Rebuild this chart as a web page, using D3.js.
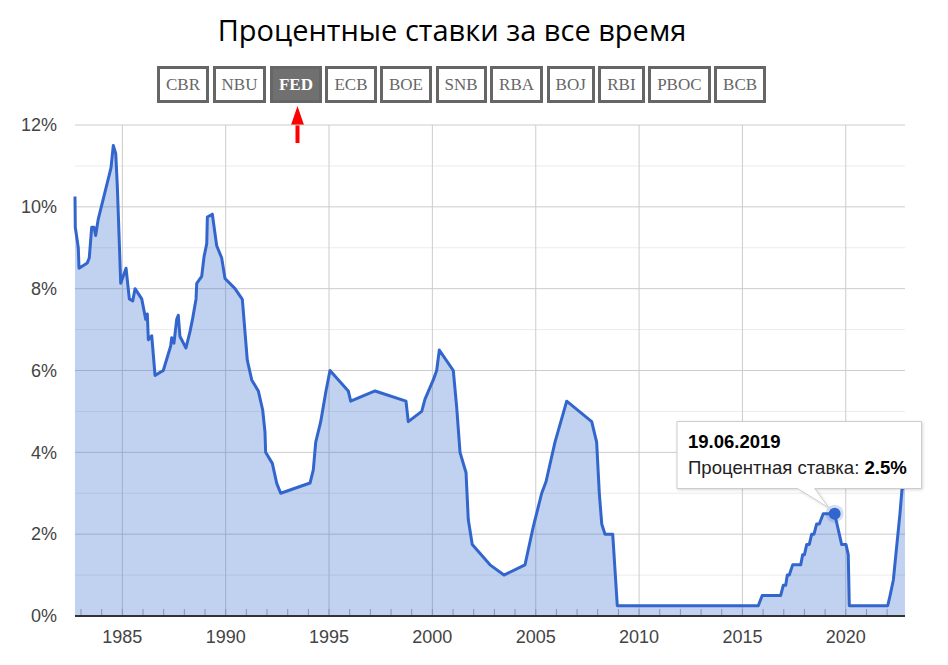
<!DOCTYPE html>
<html>
<head>
<meta charset="utf-8">
<script src="https://cdn.jsdelivr.net/npm/d3@7"></script>
<style>
  body { margin: 0; background: #fff; }
  #wrap { position: relative; width: 948px; height: 665px; }
  #banks { position: absolute; left: 157px; top: 66px; display: flex; gap: 3.5px; }
  .bank { box-sizing: border-box; height: 37px; border: 3px solid #666; padding: 0 6px;
          font: 17px "Liberation Serif", "Times New Roman", serif; line-height: 31px; color: #666; background: #fff; }
  .bank.on { background: #707070; color: #fff; font-weight: bold; }
  svg { position: absolute; left: 0; top: 0; }
</style>
</head>
<body>
<div id="wrap">
  <svg id="chart" width="948" height="665"></svg>
  <div id="banks"></div>
</div>
<script>
// banks shown as buttons above the chart
const banks = ['CBR', 'NBU', 'FED', 'ECB', 'BOE', 'SNB', 'RBA', 'BOJ', 'RBI', 'PBOC', 'BCB'];
const activeBank = 'FED';

// FED rate
const dates = ['1982-09-17','1982-09-22','1982-11-14','1982-11-27','1983-04-22','1983-05-27','1983-07-09','1983-08-18','1983-09-17','1983-11-02',
  '1984-06-14','1984-07-25','1984-09-06','1984-10-04','1984-12-03','1985-03-07','1985-05-04','1985-07-03','1985-08-13','1985-12-09',
  '1986-02-18','1986-03-18','1986-04-05','1986-06-04','1986-08-01','1986-12-25','1987-05-05','1987-05-23','1987-07-02','1987-08-19',
  '1987-09-16','1987-10-16','1988-01-30','1988-04-10','1988-05-28','1988-07-26','1988-08-07','1988-11-03','1988-12-14','1989-01-31',
  '1989-02-11','1989-05-10','1989-07-26','1989-10-22','1989-12-20','1990-06-15','1990-10-22','1991-01-18','1991-04-06','1991-07-31',
  '1991-10-16','1991-11-26','1991-12-08','1992-04-04','1992-06-21','1992-08-30','1994-01-30','1994-03-29','1994-05-11','1994-08-07',
  '1994-11-08','1995-01-18','1995-12-07','1996-01-19','1997-03-24','1998-09-22','1998-11-01','1999-06-27','1999-08-24','2000-01-17',
  '2000-03-17','2000-05-03','2001-01-05','2001-03-06','2001-05-04','2001-08-18','2001-09-27','2001-12-06','2002-10-16','2003-06-19',
  '2004-06-25','2004-11-18','2005-04-16','2005-07-01','2005-12-07','2006-07-02','2007-09-17','2007-12-13','2008-01-29','2008-03-12',
  '2008-05-09','2008-09-22','2008-12-12','2015-10-08','2015-12-17','2016-11-06','2016-12-23','2017-02-04','2017-03-04','2017-04-08',
  '2017-06-07','2017-10-27','2017-12-01','2018-01-01','2018-02-11','2018-03-28','2018-05-09','2018-06-19','2018-08-05','2018-09-20',
  '2018-11-29','2019-06-19','2019-10-20','2020-01-05','2020-02-14','2020-03-04','2022-01-11','2022-02-22','2022-04-21','2022-06-19',
  '2022-08-16','2022-09-20','2022-11-13'];
const rates = [10.25, 9.5, 9.0, 8.5, 8.63, 8.75, 9.5, 9.5, 9.3, 9.7,
  10.95, 11.5, 11.3, 10.5, 8.13, 8.5, 7.75, 7.7, 8.0, 7.75,
  7.25, 7.38, 6.75, 6.85, 5.88, 6.0, 6.6, 6.8, 6.67, 7.25,
  7.35, 6.83, 6.55, 6.95, 7.28, 7.75, 8.13, 8.3, 8.78, 9.1,
  9.75, 9.82, 9.05, 8.75, 8.25, 8.0, 7.74, 6.25, 5.77, 5.5,
  5.04, 4.5, 4.0, 3.73, 3.24, 3.0, 3.25, 3.57, 4.25, 4.75,
  5.5, 6.0, 5.5, 5.25, 5.5, 5.25, 4.75, 5.0, 5.3, 5.77,
  6.0, 6.5, 6.0, 5.1, 4.0, 3.5, 2.35, 1.75, 1.25, 1.0,
  1.25, 2.18, 3.0, 3.28, 4.25, 5.25, 4.75, 4.25, 3.0, 2.25,
  2.0, 2.0, 0.25, 0.25, 0.5, 0.5, 0.75, 0.75, 1.0, 1.0,
  1.25, 1.25, 1.5, 1.5, 1.75, 1.75, 2.0, 2.0, 2.25, 2.25,
  2.5, 2.5, 1.75, 1.75, 1.5, 0.25, 0.25, 0.5, 0.88, 1.7,
  2.5, 3.08, 3.25];

const yTicks = [0, 2, 4, 6, 8, 10, 12];
const tipDate = '2019-06-19';

const parse = d3.utcParse('%Y-%m-%d');
const data = dates.map((d, i) => ({ date: parse(d), rate: rates[i] }));

const svg = d3.select('#chart').style('font-family', 'Arial, "Liberation Sans", sans-serif');

svg.append('text').attr('x', 452).attr('y', 41).attr('text-anchor', 'middle')
  .style('font-family', '"Open Sans", sans-serif').style('font-size', '29px').style('fill', '#000')
  .text('Процентные ставки за все время');

d3.select('#banks').selectAll('div').data(banks).enter().append('div')
  .attr('class', d => d === activeBank ? 'bank on' : 'bank').text(d => d);

// red arrow under the selected button
svg.append('path').attr('d', 'M297.5,106 L304,125 L299.5,125 L299.5,143 L295.5,143 L295.5,125 L291,125 Z').attr('fill', '#f00');

const x = d3.scaleUtc().domain(d3.extent(data, d => d.date)).range([75, 905]);
const y = d3.scaleLinear().domain([0, 12]).range([616, 125]);

const g = svg.append('g');

// gridlines
g.selectAll('.hminor').data(d3.range(1, 12, 2)).enter().append('line')
  .attr('x1', 75).attr('x2', 905).attr('y1', d => y(d)).attr('y2', d => y(d))
  .attr('stroke', '#ebebeb').attr('stroke-width', 1);
g.selectAll('.hmajor').data(yTicks.slice(1)).enter().append('line')
  .attr('x1', 75).attr('x2', 905).attr('y1', d => y(d)).attr('y2', d => y(d))
  .attr('stroke', '#ccc').attr('stroke-width', 1);
const years5 = x.ticks(d3.utcYear.every(5));
g.selectAll('.vgrid').data(years5).enter().append('line')
  .attr('x1', d => x(d)).attr('x2', d => x(d)).attr('y1', 125).attr('y2', 616)
  .attr('stroke', '#ccc').attr('stroke-width', 1);
g.selectAll('.ytick').data(x.ticks(d3.utcYear.every(1))).enter().append('line')
  .attr('x1', d => x(d)).attr('x2', d => x(d)).attr('y1', 609).attr('y2', 616)
  .attr('stroke', '#aaa').attr('stroke-width', 1);

// area + line
const area = d3.area().x(d => x(d.date)).y0(y(0)).y1(d => y(d.rate));
const line = d3.line().x(d => x(d.date)).y(d => y(d.rate));
g.append('path').datum(data).attr('d', area).attr('fill', '#3366cc').attr('fill-opacity', 0.3);
g.append('path').datum(data).attr('d', line).attr('fill', 'none')
  .attr('stroke', '#3366cc').attr('stroke-width', 3).attr('stroke-linejoin', 'round');

// baseline
g.append('line').attr('x1', 75).attr('x2', 905).attr('y1', 616).attr('y2', 616)
  .attr('stroke', '#333').attr('stroke-width', 2);

// axis labels
g.selectAll('.ylab').data(yTicks).enter().append('text')
  .attr('x', 57).attr('y', d => y(d)).attr('dy', '0.35em').attr('text-anchor', 'end')
  .style('font-size', '18px').style('fill', '#444').text(d => d + '%');
g.selectAll('.xlab').data(years5).enter().append('text')
  .attr('x', d => x(d)).attr('y', 643).attr('text-anchor', 'middle')
  .style('font-size', '18px').style('fill', '#444').text(d => d.getUTCFullYear());

// tooltip
const tp = data.find(d => d3.utcFormat('%Y-%m-%d')(d.date) === tipDate);
const tx = x(tp.date), ty = y(tp.rate);
g.append('circle').attr('cx', tx).attr('cy', ty).attr('r', 9).attr('fill', '#3366cc').attr('fill-opacity', 0.2);
g.append('circle').attr('cx', tx).attr('cy', ty).attr('r', 6).attr('fill', '#3366cc');

const defs = svg.append('defs');
const f = defs.append('filter').attr('id', 'sh').attr('x', '-10%').attr('y', '-20%').attr('width', '120%').attr('height', '150%');
f.append('feDropShadow').attr('dx', 1).attr('dy', 1).attr('stdDeviation', 1.5).attr('flood-color', '#000').attr('flood-opacity', 0.15);

const tip = svg.append('g');
const bx = 677, by = 421.5, bw = 244.5, bh = 67;
tip.append('path')
  .attr('d', `M${bx},${by} H${bx + bw} V${by + bh} H${tx - 20} L${tx - 6},${ty - 6} L${tx - 37},${by + bh} H${bx} Z`)
  .attr('fill', '#fff').attr('stroke', '#ccc').attr('stroke-width', 1).attr('filter', 'url(#sh)');
tip.append('text').attr('x', 688).attr('y', 448).style('font-size', '18.5px').style('font-weight', 'bold').style('fill', '#000')
  .text(d3.utcFormat('%d.%m.%Y')(tp.date));
const t2 = tip.append('text').attr('x', 688).attr('y', 473.5).style('font-size', '18.6px').style('fill', '#222');
t2.append('tspan').text('Процентная ставка: ');
t2.append('tspan').style('font-weight', 'bold').style('fill', '#000').text(tp.rate + '%');
</script>
</body>
</html>
